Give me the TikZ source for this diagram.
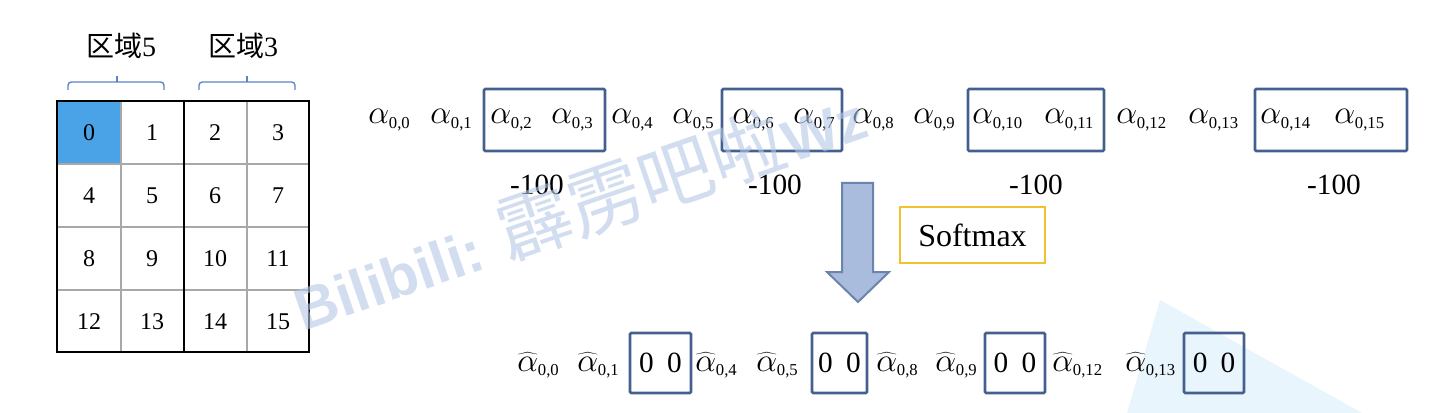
\documentclass[tikz,border=0pt]{standalone}
\usepackage{fontspec}
\setmainfont{Liberation Serif}
\newfontfamily\cjk{Noto Sans CJK SC}
\newfontfamily\wmfont{Liberation Sans}
\definecolor{cellblue}{HTML}{4AA3E6}
\definecolor{gridgray}{HTML}{A8A8A8}
\definecolor{bracecol}{HTML}{5B84C4}
\definecolor{boxblue}{HTML}{44608F}
\definecolor{arrowfill}{HTML}{AABCDD}
\definecolor{arrowdraw}{HTML}{6A84AE}
\definecolor{softyellow}{HTML}{F2C12E}
\definecolor{wmblue}{HTML}{B4C8E6}
\definecolor{trifill}{HTML}{E9F5FC}
\newcommand{\sub}[1]{\mbox{\fontsize{12.5}{13}\selectfont #1}}
\tikzset{
  every node/.style={inner sep=0pt},
  cellnum/.style={font=\fontsize{18}{20}\selectfont},
  term/.style={font=\fontsize{23}{25}\selectfont, anchor=base west},
  minus/.style={font=\fontsize{22}{24}\selectfont},
  zeros/.style={font=\fontsize{22}{24}\selectfont},
  boxst/.style={draw=boxblue, line width=2pt, rounded corners=1pt},
  thinline/.style={draw=gridgray, line width=1.1pt},
  thickline/.style={draw=black, line width=1.8pt},
  bracest/.style={draw=bracecol, line width=1pt, rounded corners=2.5pt},
}
\begin{document}
\begin{tikzpicture}[x=0.75pt,y=-0.75pt]
\useasboundingbox (0,0) rectangle (1437,413);
% background triangle
\fill[trifill] (1160,300) -- (1362,413) -- (1127,413) -- cycle;
% grid
\fill[cellblue] (57,101) rectangle (121,164);
\foreach \xx in {121,247} \draw[thinline] (\xx,101) -- (\xx,352);
\foreach \yy in {164,227,290} \draw[thinline] (57,\yy) -- (309,\yy);
\draw[thickline] (184,101) -- (184,352);
\draw[thickline] (57,101) rectangle (309,352);
\foreach \n [count=\k from 0] in {0,...,15} {
  \pgfmathtruncatemacro{\col}{mod(\k,4)}
  \pgfmathtruncatemacro{\row}{div(\k,4)}
  \node[cellnum] (c\n) at ({89+63*\col},{133+63*\row}) {\n};
}
% braces and labels
\draw[bracest] (68,90) -- (68,82) -- (164,82) -- (164,90);
\draw[draw=bracecol, line width=1pt] (117,82) -- (117,76);
\draw[bracest] (199,90) -- (199,82) -- (295,82) -- (295,90);
\draw[draw=bracecol, line width=1pt] (247,82) -- (247,76);
\node[font=\fontsize{21}{23}\selectfont] (r5) at (121,46) {{\cjk 区域}5};
\node[font=\fontsize{21}{23}\selectfont] (r3) at (243,46) {{\cjk 区域}3};
% top row
\foreach \xx/\i in {368/0,430/1,490/2,551/3,611/4,672/5,732/6,793/7,852/8,913/9,972/10,1044/11,1116/12,1188/13,1260/14,1334/15}
  \node[term] (a\i) at (\xx,124) {$\alpha_{\sub{0,\i}}$};
\draw[boxst] (484,89) rectangle (605,151);
\draw[boxst] (722,89) rectangle (842,151);
\draw[boxst] (968,89) rectangle (1104,151);
\draw[boxst] (1255,89) rectangle (1407,151);
\node[minus] (m1) at (537,185) {-100};
\node[minus] (m2) at (775,185) {-100};
\node[minus] (m3) at (1036,185) {-100};
\node[minus] (m4) at (1334,185) {-100};
% arrow
\draw[fill=arrowfill, draw=arrowdraw, line width=1.5pt, line join=miter]
  (842,183) -- (873,183) -- (873,272) -- (889,272) -- (858,302) -- (827,272) -- (842,272) -- cycle;
\node[draw=softyellow, line width=1.3pt, minimum width=108.75pt, minimum height=42pt,
      font=\fontsize{24}{26}\selectfont] (sm) at (972.5,235) {Softmax};
% bottom row
\foreach \xx/\i in {517/0,577/1,695/4,756/5,876/8,935/9,1052/12,1125/13}
  \node[term] (h\i) at (\xx,371) {$\widehat{\alpha}_{\sub{0,\i}}$};
\foreach \xa/\xb/\j in {630/691/1,812/867/2,985/1045/3,1184/1244/4} {
  \draw[boxst] (\xa,333) rectangle (\xb,393);
  \node[zeros] (z\j) at ({(\xa+\xb)/2},363) {0\hspace{0.45em}0};
}
% watermark
\node[rotate=19, text=wmblue, opacity=0.6, font=\wmfont\bfseries\fontsize{44}{48}\selectfont]
  (wm) at (578,207) {Bilibili: {\cjk\mdseries\fontsize{56}{60}\selectfont 霹雳吧啦}Wz};
\end{tikzpicture}
\end{document}
